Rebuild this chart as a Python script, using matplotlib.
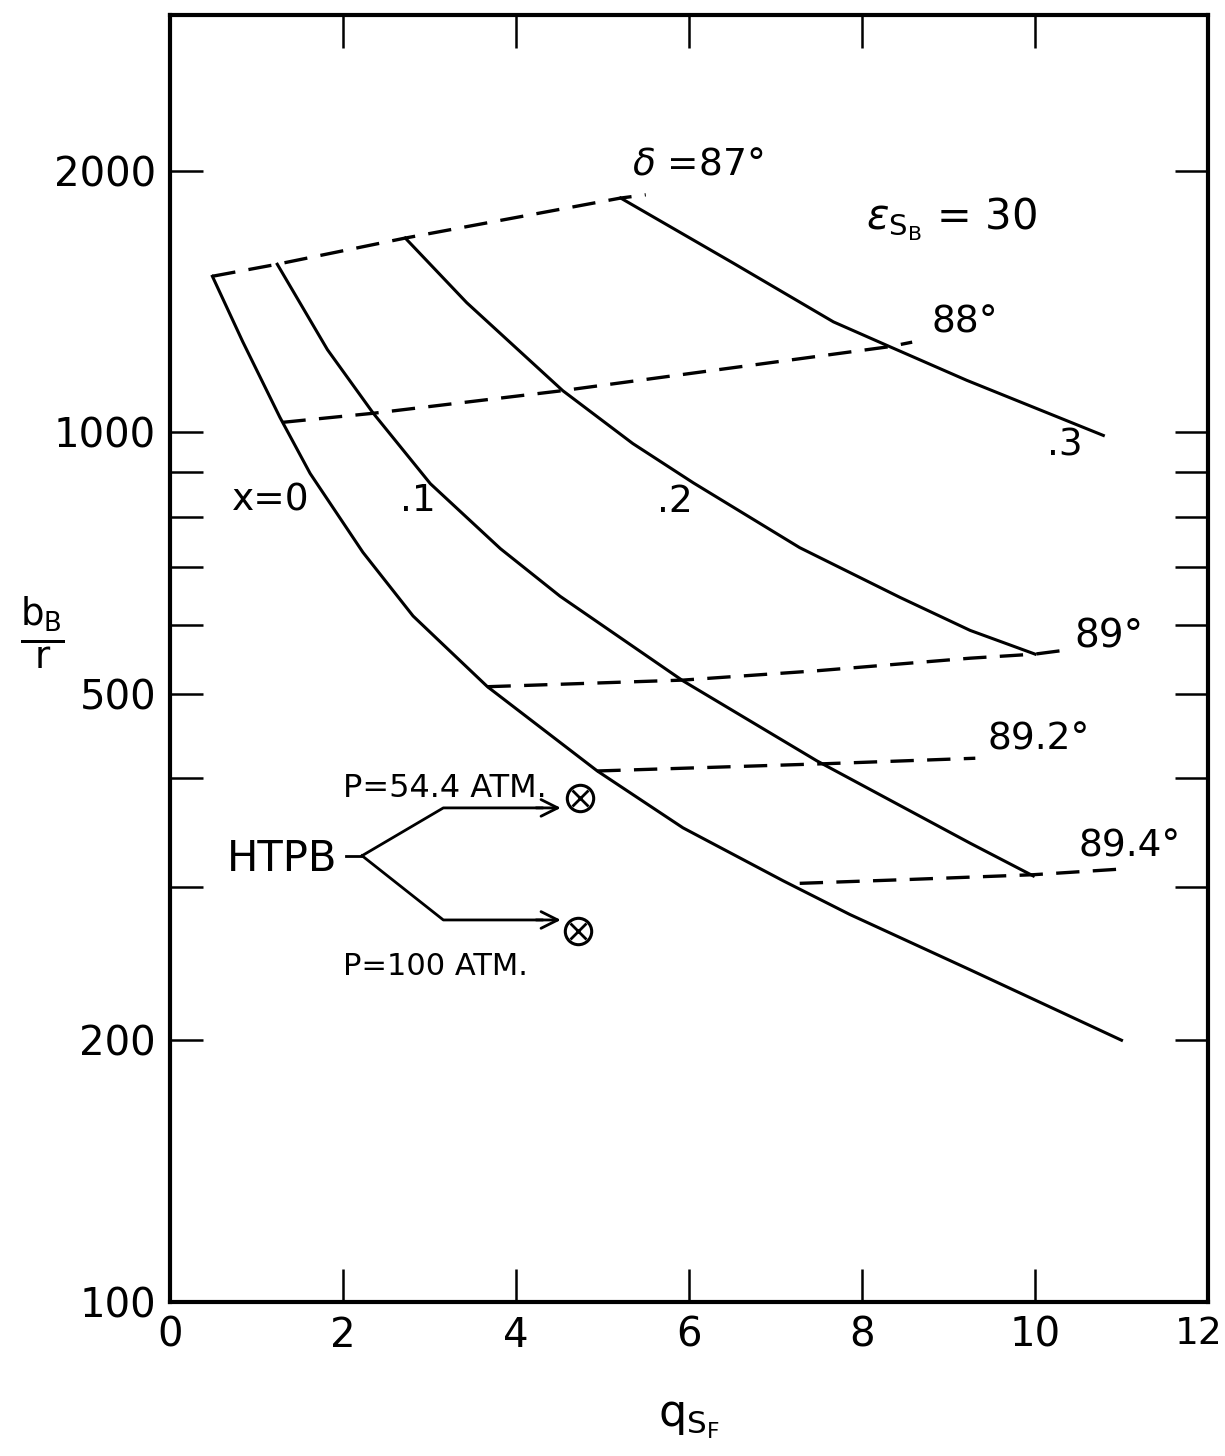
import numpy as np
import matplotlib.pyplot as plt

# solid curves, one per x value  (q_SF, b_B/r)
x0_q = [0.49, 0.84, 1.27, 1.62, 2.23, 2.81, 3.24, 3.67, 4.94, 5.93, 7.09, 7.86, 9.25, 11.0]
x0_b = [1512, 1272, 1041, 897, 728, 615, 560, 510, 408, 351, 305, 279, 241, 200]
x1_q = [1.24, 1.82, 2.35, 3.01, 3.82, 4.51, 5.93, 7.48, 9.25, 9.98]
x1_b = [1561, 1245, 1052, 873, 735, 648, 518, 419, 337, 309]
x2_q = [2.72, 3.43, 4.54, 5.35, 6.05, 7.28, 8.44, 9.25, 10.0]
x2_b = [1673, 1410, 1117, 971, 875, 737, 646, 592, 556]
x3_q = [5.21, 6.51, 7.67, 8.32, 9.21, 10.79]
x3_b = [1860, 1566, 1340, 1255, 1148, 992]

# dashed lines of constant delta
d87_q = [0.49, 1.24, 2.72, 5.21, 5.5]
d87_b = [1512, 1561, 1673, 1860, 1876]
d88_q = [1.30, 2.35, 4.54, 8.32, 8.58]
d88_b = [1027, 1052, 1117, 1255, 1270]
d89_q = [3.67, 5.93, 7.48, 9.25, 10.0, 10.3]
d89_b = [510, 519, 532, 550, 556, 561]
d892_q = [4.94, 7.6, 9.31]
d892_b = [408, 416, 422]
d894_q = [7.28, 8.5, 9.98, 11.06]
d894_b = [303, 306, 310, 315]

# HTPB points
htpb_q = [4.74, 4.72]
htpb_b = [380, 267]

yticks = [100, 200, 300, 400, 500, 600, 700, 800, 900, 1000, 2000]
ylabels = ['100', '200', '', '', '500', '', '', '', '', '1000', '2000']
xticks = [0, 2, 4, 6, 8, 10, 12]
xlabels = ['0', '2', '4', '6', '8', '10', '']

plt.rcParams['font.family'] = ['DejaVu Sans']
plt.rcParams['mathtext.fontset'] = 'dejavusans'

fig = plt.figure(figsize=(12.25, 14.56), dpi=100)
ax = fig.add_axes([170/1225, 154/1456, 1038/1225, 1287/1456])
ax.set_yscale('log')
ax.set_xlim(0, 12)
ax.set_ylim(100, 3020)

for q, b in [(x0_q, x0_b), (x1_q, x1_b), (x2_q, x2_b), (x3_q, x3_b)]:
    ax.plot(q, b, color='black', lw=2.2, solid_joinstyle='round')

for q, b in [(d87_q, d87_b), (d88_q, d88_b), (d89_q, d89_b), (d892_q, d892_b), (d894_q, d894_b)]:
    ax.plot(q, b, color='black', lw=2.4, dashes=(7, 4))

ax.plot(htpb_q, htpb_b, 'o', ms=19, mfc='none', mec='black', mew=2.2)
ax.plot(htpb_q, htpb_b, 'x', ms=11, mec='black', mew=2)

# HTPB branching arrows
ax.plot([2.03, 2.22], [326, 326], color='black', lw=2)
ax.plot([2.22, 3.16, 4.3], [326, 370, 370], color='black', lw=2)
ax.plot([2.22, 3.16, 4.3], [326, 275, 275], color='black', lw=2)
ax.annotate('', xy=(4.55, 370), xytext=(4.2, 370),
            arrowprops=dict(arrowstyle='->', color='black', lw=2, mutation_scale=30))
ax.annotate('', xy=(4.55, 275), xytext=(4.2, 275),
            arrowprops=dict(arrowstyle='->', color='black', lw=2, mutation_scale=30))

fs = 27
ax.text(1.16, 835, 'x=0', fontsize=fs, ha='center', va='center')
ax.text(2.87, 835, '.1', fontsize=fs, ha='center', va='center')
ax.text(5.84, 831, '.2', fontsize=fs, ha='center', va='center')
ax.text(10.35, 966, '.3', fontsize=fs, ha='center', va='center')
ax.text(5.34, 2031, r'$\delta$ =87°', fontsize=fs, ha='left', va='center')
ax.text(8.05, 1760, r'$\varepsilon_{\mathrm{S}_\mathrm{B}}$ = 30', fontsize=30, ha='left', va='center')
ax.text(8.8, 1339, '88°', fontsize=fs, ha='left', va='center')
ax.text(10.45, 582, '89°', fontsize=28, ha='left', va='center')
ax.text(9.45, 443, '89.2°', fontsize=fs, ha='left', va='center')
ax.text(10.5, 334, '89.4°', fontsize=fs, ha='left', va='center')
ax.text(2.0, 389, 'P=54.4 ATM.', fontsize=23, ha='left', va='center')
ax.text(2.0, 243, 'P=100 ATM.', fontsize=22, ha='left', va='center')
ax.text(0.66, 323, 'HTPB', fontsize=30, ha='left', va='center')

ax.minorticks_off()
ax.set_yticks(yticks, ylabels)
ax.set_xticks(xticks, xlabels)
ax.tick_params(axis='both', direction='in', length=24, width=1.8,
               labelsize=29, top=True, right=True, pad=10)
# last x label sits partly past the frame, as in the original
ax.annotate('12', xy=(12, 100), xytext=(-7, -10), textcoords='offset points',
            ha='center', va='top', fontsize=27, annotation_clip=False)

for s in ax.spines.values():
    s.set_linewidth(3)

ax.set_xlabel(r'$\mathrm{q}_{\mathrm{S}_\mathrm{F}}$', fontsize=32, labelpad=30)
ax.set_ylabel(r'$\frac{\mathrm{b}_\mathrm{B}}{\mathrm{r}}$', fontsize=38, rotation=0)
ax.yaxis.set_label_coords(-0.123, 0.49)

fig.savefig('out.png', dpi=100)
